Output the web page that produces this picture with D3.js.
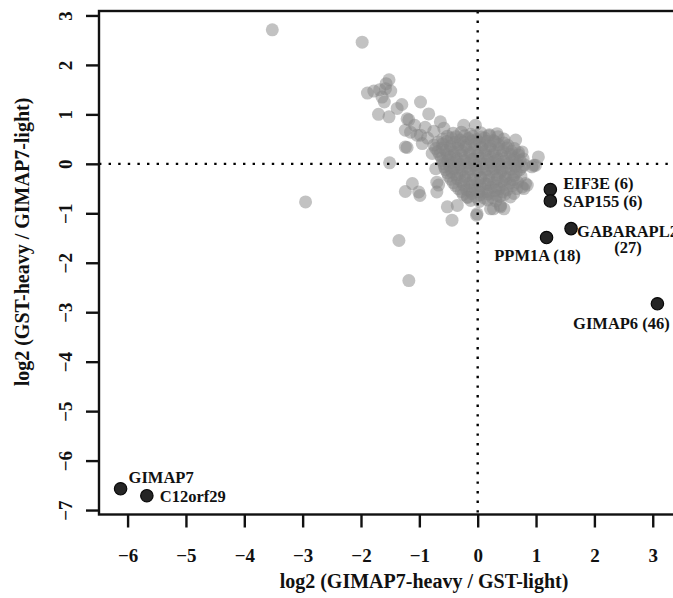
<!DOCTYPE html>
<html>
<head>
<meta charset="utf-8">
<script src="https://cdn.jsdelivr.net/npm/d3@7"></script>
<style>
  html, body { margin: 0; padding: 0; background: #fff; }
  svg { display: block; }
  text { font-family: "Liberation Serif", "Times New Roman", serif; font-weight: bold; fill: #111; }
</style>
</head>
<body>
<svg id="chart" width="673" height="598"></svg>
<script>
// Axis ticks
const xTicks = [-6, -5, -4, -3, -2, -1, 0, 1, 2, 3];
const yTicks = [-7, -6, -5, -4, -3, -2, -1, 0, 1, 2, 3];

// Axis titles
const xTitle = "log2 (GIMAP7-heavy / GST-light)";
const yTitle = "log2 (GST-heavy / GIMAP7-light)";

// All quantified proteins: [log2 GIMAP7-heavy/GST-light, log2 GST-heavy/GIMAP7-light]
const backgroundX = [
  -3.52, -1.98, -2.95,
  -1.52, -1.57, -1.89, -1.78, -1.68, -1.58, -1.49, -1.60, -1.38, -1.70, -1.52, -1.64, -1.30,
  -0.98, -1.18, -0.84, -1.24, -1.04, -0.64, -1.21, -0.95, -1.51, -1.15, -1.21, -0.78, -0.98,
  -1.24, -1.12, -0.99, -0.52, -0.35, -0.44, -0.01, 0.27, 0.45, 0.76, 0.85, 1.04, 0.96,
  0.82, 0.67, 0.56, 0.39, 0.22, -0.18, -0.70, -0.72, -1.01, -1.24, -0.67, -0.70,
  -1.35, -1.18, -0.24, -0.04, 0.33, 0.65, 0.76, 0.93, -0.02, 0.79, 0.99, 0.39, 0.62,
  -0.90, -0.75, -1.08, -0.86, -0.58,
  -0.42, -0.28, -0.12, 0.05, 0.20,
  -0.60, -0.45, -0.30, -0.16, -0.02, 0.12, 0.27, 0.45,
  -0.75, -0.60, -0.47, -0.33, -0.20, -0.05, 0.08, 0.22, 0.36, 0.52,
  -0.68, -0.55, -0.40, -0.27, -0.13, 0.00, 0.14, 0.29, 0.43, 0.58, 0.70,
  -0.62, -0.48, -0.35, -0.21, -0.07, 0.06, 0.20, 0.34, 0.49, 0.63, 0.78,
  -0.58, -0.44, -0.30, -0.16, -0.03, 0.10, 0.24, 0.38, 0.53, 0.67, 0.80,
  -0.55, -0.41, -0.27, -0.13, 0.01, 0.15, 0.29, 0.42, 0.57, 0.72,
  -0.50, -0.36, -0.22, -0.08, 0.05, 0.19, 0.33, 0.47, 0.62, 0.74,
  -0.42, -0.28, -0.14, 0.00, 0.13, 0.27, 0.41, 0.55, 0.68,
  -0.33, -0.19, -0.05, 0.09, 0.23, 0.37, 0.50,
  -0.25, -0.10, 0.04, 0.18, 0.32, 0.46,
  -0.12, 0.03, 0.17, 0.31,
  -0.52, -0.37, -0.22, -0.08, 0.06, 0.20, 0.35,
  -0.68, -0.53, -0.39, -0.25, -0.11, 0.03, 0.16, 0.30, 0.45,
  -0.72, -0.60, -0.47, -0.34, -0.20, -0.06, 0.07, 0.21, 0.36, 0.50, 0.63,
  -0.65, -0.52, -0.41, -0.28, -0.14, 0.00, 0.13, 0.27, 0.41, 0.56, 0.70,
  -0.60, -0.51, -0.37, -0.23, -0.10, 0.03, 0.17, 0.31, 0.45, 0.60, 0.73,
  -0.57, -0.48, -0.34, -0.20, -0.06, 0.08, 0.22, 0.35, 0.50, 0.64, 0.76,
  -0.52, -0.44, -0.30, -0.16, -0.02, 0.12, 0.26, 0.39, 0.53, 0.66,
  -0.46, -0.35, -0.21, -0.07, 0.06, 0.20, 0.34, 0.48, 0.61,
  -0.38, -0.24, -0.10, 0.04, 0.18, 0.32, 0.46, 0.60,
  -0.28, -0.13, 0.02, 0.16, 0.30, 0.43,
  -0.17, -0.03, 0.11, 0.25, 0.38
];
const backgroundY = [
  2.71, 2.46, -0.77,
  1.70, 1.62, 1.43, 1.47, 1.50, 1.52, 1.47, 1.25, 1.12, 1.00, 0.95, 1.35, 1.20,
  1.25, 0.89, 1.01, 0.68, 0.58, 0.85, 0.33, 0.41, 0.02, 0.64, 0.91, 0.21, 0.58,
  -0.56, -0.40, -0.64, -0.87, -0.84, -1.14, -1.01, -0.91, -0.91, -0.47, -0.43, 0.14, -0.03,
  -0.40, -0.50, -0.67, -0.87, -0.91, -0.67, -0.37, -0.10, -0.57, 0.34, -0.43, -0.57,
  -1.55, -2.36, 0.78, 0.78, 0.61, 0.48, 0.24, -0.06, -1.04, -0.50, -0.03, -0.84, -0.60,
  0.74, 0.66, 0.78, 0.52, 0.72,
  0.62, 0.64, 0.60, 0.63, 0.59,
  0.50, 0.52, 0.48, 0.51, 0.49, 0.52, 0.47, 0.50,
  0.38, 0.40, 0.36, 0.39, 0.37, 0.40, 0.38, 0.36, 0.39, 0.37,
  0.25, 0.27, 0.24, 0.26, 0.23, 0.25, 0.27, 0.24, 0.26, 0.25, 0.23,
  0.12, 0.14, 0.11, 0.13, 0.10, 0.12, 0.14, 0.11, 0.13, 0.12, 0.10,
  0.00, 0.02, -0.01, 0.01, -0.02, 0.00, 0.02, -0.01, 0.01, 0.00, -0.02,
  -0.12, -0.10, -0.13, -0.11, -0.14, -0.12, -0.10, -0.13, -0.11, -0.12,
  -0.25, -0.23, -0.26, -0.24, -0.27, -0.25, -0.23, -0.26, -0.24, -0.25,
  -0.38, -0.36, -0.39, -0.37, -0.40, -0.38, -0.36, -0.39, -0.37,
  -0.50, -0.52, -0.49, -0.51, -0.48, -0.50, -0.52,
  -0.62, -0.60, -0.63, -0.61, -0.64, -0.62,
  -0.74, -0.76, -0.73, -0.75,
  0.56, 0.55, 0.57, 0.56, 0.54, 0.57, 0.55,
  0.44, 0.45, 0.43, 0.44, 0.46, 0.43, 0.45, 0.44, 0.42,
  0.31, 0.32, 0.30, 0.31, 0.33, 0.30, 0.32, 0.31, 0.30, 0.32, 0.31,
  0.18, 0.19, 0.17, 0.18, 0.20, 0.17, 0.19, 0.18, 0.17, 0.19, 0.18,
  0.06, 0.07, 0.05, 0.06, 0.08, 0.05, 0.07, 0.06, 0.05, 0.07, 0.06,
  -0.06, -0.05, -0.07, -0.06, -0.04, -0.07, -0.05, -0.06, -0.07, -0.05, -0.06,
  -0.18, -0.17, -0.19, -0.18, -0.16, -0.19, -0.17, -0.18, -0.19, -0.17,
  -0.31, -0.30, -0.32, -0.31, -0.29, -0.32, -0.30, -0.31, -0.32,
  -0.44, -0.43, -0.45, -0.44, -0.42, -0.45, -0.43, -0.44,
  -0.56, -0.55, -0.57, -0.56, -0.54, -0.57,
  -0.68, -0.67, -0.69, -0.68, -0.66
];

// Highlighted interactors
const hitNames = ["EIF3E (6)", "SAP155 (6)", "GABARAPL2", "PPM1A (18)", "GIMAP6 (46)", "GIMAP7", "C12orf29"];
const hitX = [1.245, 1.245, 1.60, 1.18, 3.08, -6.12, -5.67];
const hitY = [-0.52, -0.75, -1.31, -1.49, -2.83, -6.57, -6.71];

// Secondary label line under GABARAPL2
const extraLabel = "(27)";

// Label placement relative to each highlighted point (pixels, baseline offset)
const labelLayout = [
  { anchor: "start",  dx: 13,  dy: -0.5 },
  { anchor: "start",  dx: 13,  dy: 6 },
  { anchor: "start",  dx: 6,   dy: 8 },
  { anchor: "middle", dx: -9,  dy: 23 },
  { anchor: "middle", dx: -36, dy: 25 },
  { anchor: "start",  dx: 8,   dy: -5.5 },
  { anchor: "start",  dx: 13,  dy: 6.5 }
];

const svg = d3.select("#chart");

const x = d3.scaleLinear().domain([-6.49, 3.45]).range([99, 679]);
const y = d3.scaleLinear().domain([-7.09, 3.09]).range([514.5, 11]);

// Background proteins (semi-transparent grey)
svg.append("g")
  .selectAll("circle")
  .data(d3.range(backgroundX.length))
  .join("circle")
  .attr("cx", i => x(backgroundX[i]))
  .attr("cy", i => y(backgroundY[i]))
  .attr("r", 6.5)
  .attr("fill", "#868686")
  .attr("fill-opacity", 0.5);

// Reference lines at zero
const guides = svg.append("g")
  .attr("stroke", "#000")
  .attr("stroke-width", 2.4)
  .attr("stroke-dasharray", "2.4 7.2");
guides.append("line")
  .attr("x1", x.range()[0]).attr("x2", x.range()[1])
  .attr("y1", y(0)).attr("y2", y(0));
guides.append("line")
  .attr("x1", x(0)).attr("x2", x(0))
  .attr("y1", y.range()[1]).attr("y2", y.range()[0]);

// Highlighted points
svg.append("g")
  .selectAll("circle")
  .data(d3.range(hitX.length))
  .join("circle")
  .attr("cx", i => x(hitX[i]))
  .attr("cy", i => y(hitY[i]))
  .attr("r", 6.2)
  .attr("fill", "#252525")
  .attr("stroke", "#080808")
  .attr("stroke-width", 1.2);

// Point labels (y is the text baseline)
const labels = svg.append("g").style("font-size", "16.5px");
labels.selectAll("text")
  .data(d3.range(hitNames.length))
  .join("text")
  .attr("x", i => x(hitX[i]) + labelLayout[i].dx)
  .attr("y", i => y(hitY[i]) + labelLayout[i].dy)
  .attr("text-anchor", i => labelLayout[i].anchor)
  .text(i => hitNames[i]);
labels.append("text")
  .attr("x", x(hitX[2]) + 57)
  .attr("y", y(hitY[2]) + 24)
  .attr("text-anchor", "middle")
  .text(extraLabel);

// Plot frame
svg.append("rect")
  .attr("x", x.range()[0])
  .attr("y", y.range()[1])
  .attr("width", x.range()[1] - x.range()[0])
  .attr("height", y.range()[0] - y.range()[1])
  .attr("fill", "none")
  .attr("stroke", "#111")
  .attr("stroke-width", 2.4);

// Bottom axis
const gx = svg.append("g")
  .attr("transform", `translate(0,${y.range()[0]})`)
  .call(d3.axisBottom(x).tickValues(xTicks).tickSize(13).tickFormat(d3.format("d")));
gx.select(".domain").remove();
gx.selectAll(".tick line").attr("stroke", "#111").attr("stroke-width", 2.4);
gx.selectAll(".tick text")
  .attr("y", 47).attr("dy", 0)
  .style("font-size", "19px")
  .style("font-family", "'Liberation Serif', serif")
  .style("font-weight", "bold")
  .attr("fill", "#111");

// Left axis with rotated labels
const gy = svg.append("g")
  .attr("transform", `translate(${x.range()[0]},0)`)
  .call(d3.axisLeft(y).tickValues(yTicks).tickSize(13).tickFormat(d3.format("d")));
gy.select(".domain").remove();
gy.selectAll(".tick line").attr("stroke", "#111").attr("stroke-width", 2.4);
gy.selectAll(".tick text")
  .attr("x", 0).attr("dy", 0)
  .attr("text-anchor", "middle")
  .attr("transform", "translate(-27.5,0) rotate(-90)")
  .style("font-size", "19px")
  .style("font-family", "'Liberation Serif', serif")
  .style("font-weight", "bold")
  .attr("fill", "#111");

// Axis titles
svg.append("text")
  .attr("x", 424)
  .attr("y", 588)
  .attr("text-anchor", "middle")
  .style("font-size", "20px")
  .text(xTitle);
svg.append("text")
  .attr("transform", "translate(29,242) rotate(-90)")
  .attr("text-anchor", "middle")
  .style("font-size", "20px")
  .text(yTitle);
</script>
</body>
</html>
